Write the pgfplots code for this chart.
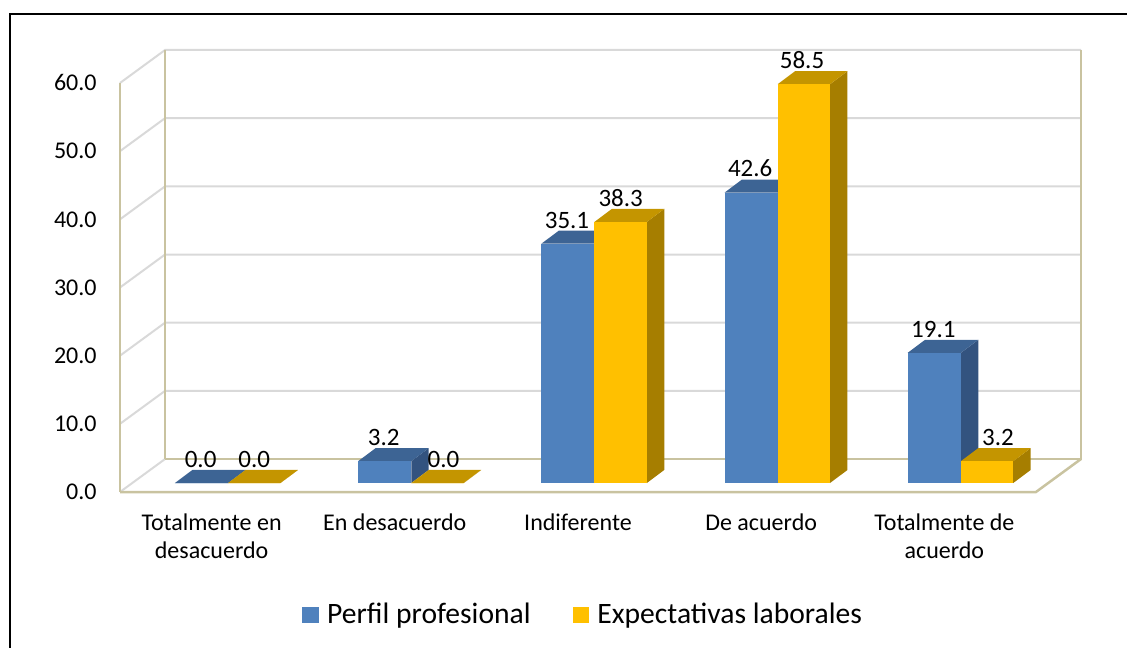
\documentclass[border=0pt]{standalone}
\usepackage{pgfplots}
\pgfplotsset{compat=1.18}
\usepackage{pgfplotstable}
\usepackage{fontspec}
\setmainfont{Carlito}

\definecolor{blueF}{HTML}{4F81BD}
\definecolor{blueT}{HTML}{3D6494}
\definecolor{blueS}{HTML}{33537F}
\definecolor{orangeF}{HTML}{FFC000}
\definecolor{orangeT}{HTML}{C49500}
\definecolor{orangeS}{HTML}{A67E00}
\definecolor{tanc}{HTML}{C9C3A0}
\definecolor{gridc}{HTML}{D9D9D9}

% values; lx = small horizontal shift of the orange value label
\pgfplotstableread{
cat perfil expect lx
0 0.0 0.0 0.0
1 3.2 0.0 0.033
2 35.1 38.3 0.0
3 42.6 58.5 -0.01
4 19.1 3.2 0.06
}\datatable

\begin{document}
\begin{tikzpicture}
\draw[line width=1pt] (5pt,-20pt) -- (5pt,316.5pt) -- (600pt,316.5pt);
\begin{axis}[
  at={(60pt,77.5pt)}, anchor=south west,
  scale only axis, width=480.5pt, height=221pt,
  xmin=0, xmax=5.246, ymin=0, ymax=64.84,
  clip=false,
  axis line style={draw=none},
  major tick style={draw=none}, major tick length=0pt,
  ytick={0,10,...,60},
  yticklabel={\pgfmathprintnumber[fixed,fixed zerofill,precision=1,assume math mode=true]{\tick}},
  yticklabel style={anchor=east, inner sep=0pt, xshift=-11.5pt, font=\fontsize{12}{14}\selectfont},
  xtick={0.5,1.5,2.5,3.5,4.5},
  xticklabels={{Totalmente en\\desacuerdo},{En desacuerdo},{Indiferente},{De acuerdo},{Totalmente de\\acuerdo}},
  xticklabel style={align=center, anchor=north, inner sep=0pt, yshift=-10.5pt, font=\fontsize{12}{14}\selectfont},
  legend style={at={(0.483,-0.278)}, anchor=center, draw=none, fill=none, legend columns=2,
    font=\fontsize{14.8}{17}\selectfont,
    /tikz/every even column/.append style={column sep=19pt}},
  legend entries={Perfil profesional, Expectativas laborales},
]
\addlegendimage{legend image code/.code={\fill[blueF] (0pt,-3.8pt) rectangle (7.6pt,3.8pt);\path (10pt,0pt);}}
\addlegendimage{legend image code/.code={\fill[orangeF] (0pt,-3.8pt) rectangle (7.6pt,3.8pt);\path (10pt,0pt);}}

% grid lines (back wall and left wall)
\addplot[gridc, line width=1pt] coordinates {(0,0) (0.246,4.84)};
\addplot[gridc, line width=1pt] coordinates {(0,10) (0.246,14.84) (5.246,14.84)};
\addplot[gridc, line width=1pt] coordinates {(0,20) (0.246,24.84) (5.246,24.84)};
\addplot[gridc, line width=1pt] coordinates {(0,30) (0.246,34.84) (5.246,34.84)};
\addplot[gridc, line width=1pt] coordinates {(0,40) (0.246,44.84) (5.246,44.84)};
\addplot[gridc, line width=1pt] coordinates {(0,50) (0.246,54.84) (5.246,54.84)};
\addplot[gridc, line width=1pt] coordinates {(0,60) (0.246,64.84) (5.246,64.84)};
% wall edges and floor
\addplot[tanc, line width=1.25pt] coordinates {(0,0) (0,60)};
\addplot[tanc, line width=1.25pt] coordinates {(0.246,4.84) (0.246,64.84)};
\addplot[tanc, line width=1.25pt] coordinates {(5.246,64.84) (5.246,4.84) (0.246,4.84)};
\addplot[tanc, line width=1.25pt] coordinates {(0,0) (5,0) (5.246,4.84)};

% 3D bars
\pgfplotsinvokeforeach{0,...,4}{
  \pgfplotstablegetelem{#1}{perfil}\of\datatable
  \pgfmathsetmacro\va{\pgfplotsretval}
  \pgfplotstablegetelem{#1}{expect}\of\datatable
  \pgfmathsetmacro\vb{\pgfplotsretval}
  \pgfmathsetmacro\xa{#1+0.30}
  \pgfmathsetmacro\xb{#1+0.59}
  \pgfmathsetmacro\xc{#1+0.876}
  \pgfmathsetmacro\xad{\xa+0.095}
  \pgfmathsetmacro\xbd{\xb+0.095}
  \pgfmathsetmacro\xcd{\xc+0.095}
  \pgfmathsetmacro\yb{1.32}
  \pgfmathsetmacro\ybd{1.32+1.91}
  \pgfmathsetmacro\ta{1.32+\va}
  \pgfmathsetmacro\tad{\ta+1.91}
  \pgfmathsetmacro\tb{1.32+\vb}
  \pgfmathsetmacro\tbd{\tb+1.91}
  \addplot[fill=blueS, draw=none] coordinates {(\xb,\yb) (\xbd,\ybd) (\xbd,\tad) (\xb,\ta)} -- cycle;
  \addplot[fill=blueT, draw=none] coordinates {(\xa,\ta) (\xb,\ta) (\xbd,\tad) (\xad,\tad)} -- cycle;
  \addplot[fill=blueF, draw=none] coordinates {(\xa,\yb) (\xb,\yb) (\xb,\ta) (\xa,\ta)} -- cycle;
  \addplot[fill=orangeS, draw=none] coordinates {(\xc,\yb) (\xcd,\ybd) (\xcd,\tbd) (\xc,\tb)} -- cycle;
  \addplot[fill=orangeT, draw=none] coordinates {(\xb,\tb) (\xc,\tb) (\xcd,\tbd) (\xbd,\tbd)} -- cycle;
  \addplot[fill=orangeF, draw=none] coordinates {(\xb,\yb) (\xc,\yb) (\xc,\tb) (\xb,\tb)} -- cycle;
}

% data labels
\addplot[draw=none, mark=none, point meta=explicit,
  nodes near coords={\pgfmathprintnumber[fixed,fixed zerofill,precision=1,assume math mode=true]{\pgfplotspointmeta}},
  every node near coord/.append style={text=black, anchor=south, inner sep=0pt, yshift=1pt, font=\fontsize{12.5}{14}\selectfont}]
  table[x expr=\coordindex+0.44, y expr=\thisrow{perfil}+3.23, meta=perfil]{\datatable};
\addplot[draw=none, mark=none, point meta=explicit,
  nodes near coords={\pgfmathprintnumber[fixed,fixed zerofill,precision=1,assume math mode=true]{\pgfplotspointmeta}},
  every node near coord/.append style={text=black, anchor=south, inner sep=0pt, yshift=1pt, font=\fontsize{12.5}{14}\selectfont}]
  table[x expr=\coordindex+0.733+\thisrow{lx}, y expr=\thisrow{expect}+3.23, meta=expect]{\datatable};
\end{axis}
\pgfresetboundingbox
\path[use as bounding box] (0,0) rectangle (563.5pt,323.5pt);
\end{tikzpicture}
\end{document}
